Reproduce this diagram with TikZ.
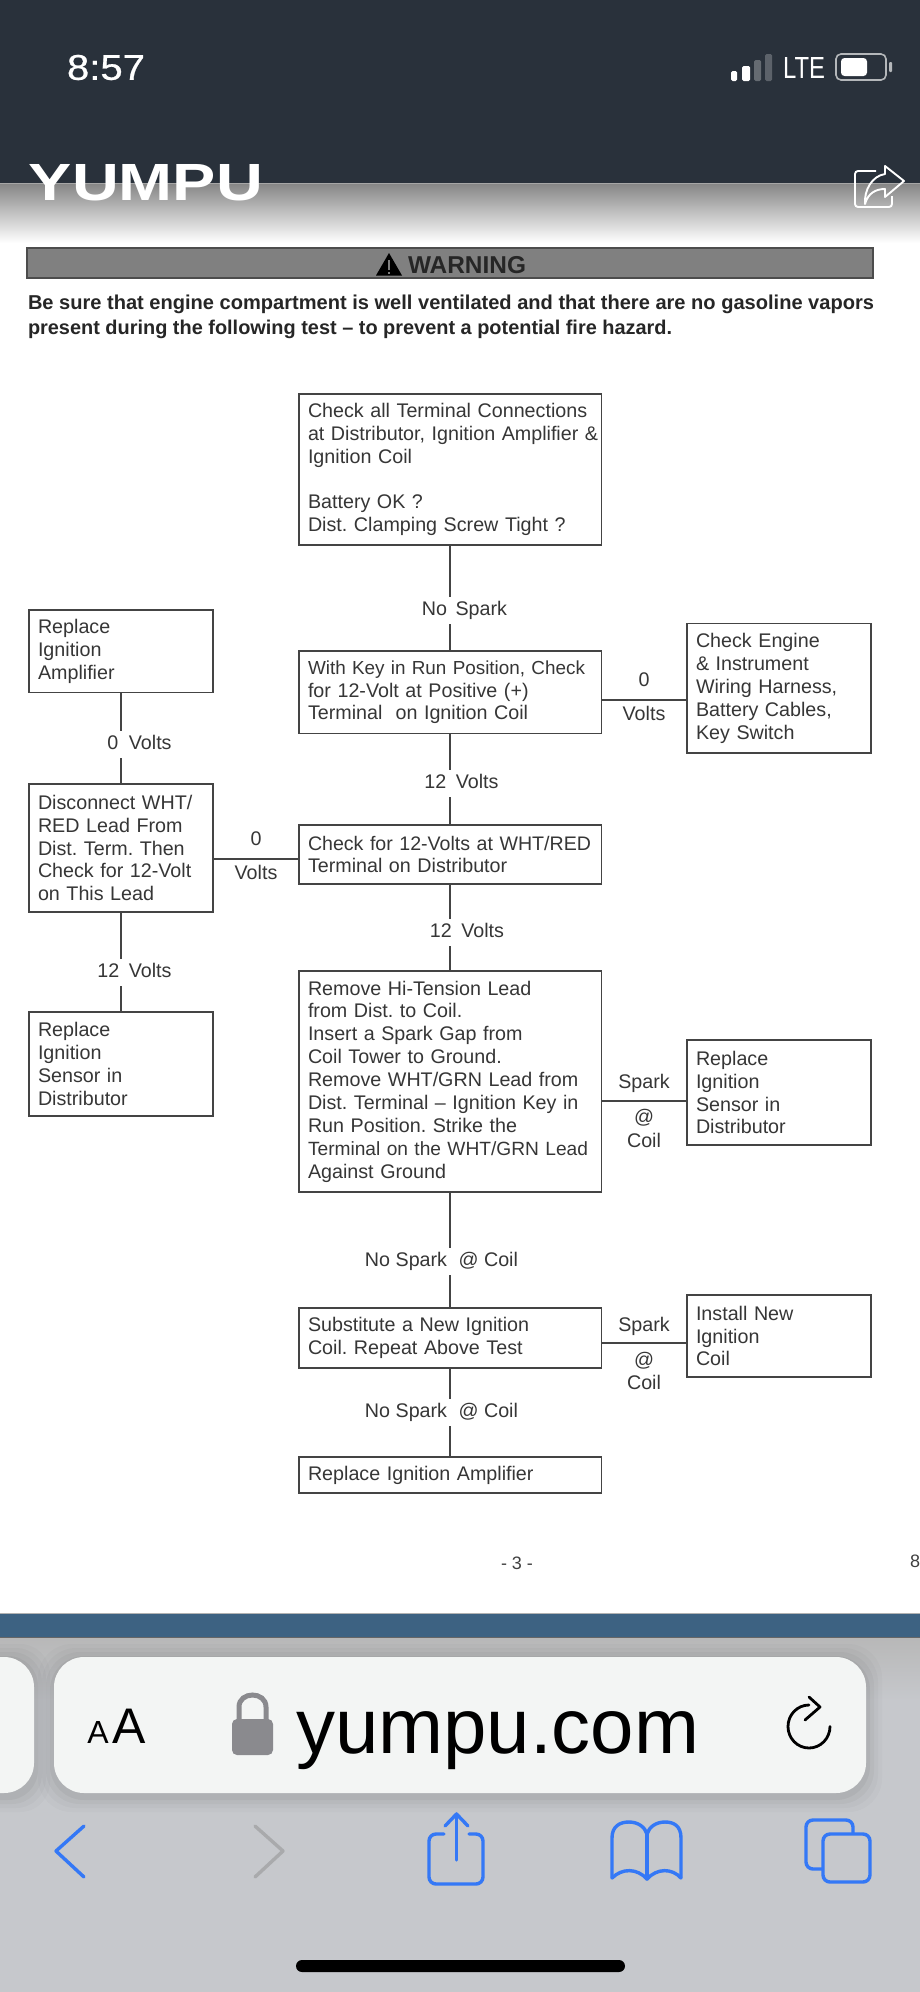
\documentclass[tikz,border=0pt]{standalone}
\usepackage{fontspec}
\usepackage{graphicx}
\setmainfont{Liberation Sans}
\frenchspacing
\definecolor{hdr}{HTML}{29313B}
\definecolor{ink}{HTML}{363636}
\definecolor{edge}{HTML}{444444}
\definecolor{barblue}{HTML}{3D6282}
\definecolor{chrome}{HTML}{C6C8CC}
\definecolor{field}{HTML}{F3F5F4}
\definecolor{iosblue}{HTML}{3478F6}
\definecolor{iosgray}{HTML}{A9AAAC}
\definecolor{lockgray}{HTML}{8A8A8E}
\tikzset{
  x=1pt,y=-1pt,
  flow/.style={draw=edge,line width=1.8pt,fill=white,inner sep=0pt,outer sep=0pt,text=ink,font=\fontsize{19.7}{22.9}\selectfont,align=left},
  wire/.style={draw=edge,line width=1.8pt},
  lab/.style={fill=white,inner xsep=1pt,inner ysep=4.5pt,text height=14pt,text depth=4pt,text=ink,font=\fontsize{19.7}{22.9}\selectfont},
  side/.style={inner sep=0pt,text=ink,font=\fontsize{19.7}{22.9}\selectfont},
  plain/.style={inner sep=0pt,outer sep=0pt},
  ios/.style={line width=3.4pt,draw=iosblue,line cap=round,line join=round},
}
\newcommand{\flowbox}[6]{%
  \pgfmathsetmacro\flowW{#4-#2}\pgfmathsetmacro\flowH{#5-#3}\pgfmathsetmacro\flowT{#4-#2-18}%
  \node[flow,minimum width=\flowW pt,minimum height=\flowH pt,text width=\flowT pt] (#1) at ({(#2+#4)/2},{(#3+#5)/2}) {#6};}
\newcommand{\fitline}[2]{\resizebox{#1pt}{!}{#2}}
\begin{document}
\begin{tikzpicture}
\useasboundingbox (0,0) rectangle (920,1992);
% page and header
\fill[white] (0,0) rectangle (920,1992);
\fill[hdr] (0,0) rectangle (920,183);
\shade[top color=black!48!white,bottom color=white] (0,183) rectangle (920,243);
\draw[black!35!white,line width=0.8pt] (0,183.5) -- (920,183.5);
\node[plain,text=white,anchor=center] (clock) at (106,67.5) {\resizebox{78pt}{25pt}{\addfontfeature{FakeBold=0.6}8:57}};
\fill[white,rounded corners=1.5pt] (731,71) rectangle (737,81);
\fill[white,rounded corners=1.5pt] (742,66) rectangle (750,81);
\fill[white!28!hdr,rounded corners=1.5pt] (754,60) rectangle (761,81);
\fill[white!24!hdr,rounded corners=1.5pt] (765,54) rectangle (772,81);
\node[plain,text=white] (lte) at (804,68) {\resizebox{42pt}{21pt}{LTE}};
\draw[white!65!hdr,line width=1.6pt,rounded corners=5pt] (836,54) rectangle (886,80);
\fill[white,rounded corners=3.5pt] (841,58) rectangle (867,76);
\fill[white!65!hdr,rounded corners=1pt] (889,62) rectangle (892,72);
\node[plain,text=white] (brand) at (146,183) {\resizebox{234pt}{36pt}{\bfseries YUMPU}};
\draw[white,line width=1.9pt,rounded corners=3pt] (876,171) -- (855,171) -- (855,207) -- (892,207) -- (892,196);
\draw[white,line width=1.9pt,line join=round] (885,166) -- (904,181) -- (885,197) -- (885,189) .. controls (876,189) and (868,193) .. (865,204) .. controls (864,190) and (872,176) .. (885,174) -- cycle;
% warning banner
\node[draw=black!70,fill=black!50,line width=1.6pt,plain,minimum width=846pt,minimum height=30pt] (banner) at (450,263) {};
\fill[black] (376,275.5) -- (402,275.5) -- (389,253) -- cycle;
\fill[black!50] (387.6,260) rectangle (390.4,270);
\fill[black!50] (387.6,271.5) rectangle (390.4,274);
\node[plain,text=black!85,anchor=west] (warnhead) at (408,265.5) {\resizebox{118pt}{!}{\bfseries WARNING}};
\node[plain,text=black!85,anchor=west] (warn1) at (28,304.5) {\resizebox{846pt}{!}{\bfseries Be sure that engine compartment is well ventilated and that there are no gasoline vapors}};
\node[plain,text=black!85,anchor=west] (warn2) at (28,329) {\resizebox{644pt}{!}{\bfseries present during the following test -- to prevent a potential fire hazard.}};
% main column
\flowbox{m1}{299}{394}{601.5}{545}{\makebox[284pt][s]{Check all Terminal Connections}\\\makebox[284pt][s]{at Distributor, Ignition Amplifier \&}\\Ignition Coil\\[22.9pt]Battery OK ?\\Dist. Clamping Screw Tight ?}
\flowbox{m2}{299}{651}{601.5}{733.5}{\fitline{277}{With Key in Run Position, Check}\\for 12-Volt at Positive (+)\\Terminal\ \ on Ignition Coil}
\flowbox{m3}{299}{825}{601.5}{884}{\fitline{283}{Check for 12-Volts at WHT/RED}\\Terminal on Distributor}
\flowbox{m4}{299}{971}{601.5}{1192}{Remove Hi-Tension Lead\\from Dist. to Coil.\\Insert a Spark Gap from\\Coil Tower to Ground.\\\makebox[283pt][s]{Remove WHT/GRN Lead from}\\Dist. Terminal -- Ignition Key in\\Run Position. Strike the\\\fitline{280}{Terminal on the WHT/GRN Lead}\\Against Ground}
\flowbox{m5}{299}{1308}{601.5}{1368}{Substitute a New Ignition\\Coil. Repeat Above Test}
\flowbox{m6}{299}{1457}{601.5}{1493}{Replace Ignition Amplifier}
% left column
\flowbox{l1}{29}{610}{213}{692.5}{Replace\\Ignition\\Amplifier}
\flowbox{l2}{29}{784}{213}{912}{Disconnect WHT/\\RED Lead From\\Dist. Term. Then\\Check for 12-Volt\\on This Lead}
\flowbox{l3}{29}{1012}{213}{1116}{Replace\\Ignition\\Sensor in\\Distributor}
% right column
\flowbox{r1}{687}{623.5}{871}{753}{Check Engine\\\& Instrument\\Wiring Harness,\\Battery Cables,\\Key Switch}
\flowbox{r2}{687}{1040}{871}{1145}{Replace\\Ignition\\Sensor in\\Distributor}
\flowbox{r3}{687}{1295}{871}{1377}{Install New\\Ignition\\Coil}
% vertical connectors
\draw[wire] (m1) -- (m2);
\draw[wire] (m2) -- (m3);
\draw[wire] (m3) -- (m4);
\draw[wire] (m4) -- (m5);
\draw[wire] (m5) -- (m6);
\draw[wire] (l1) -- (l2);
\draw[wire] (l2) -- (l3);
% their labels
\node[lab] (t1) at (464.5,610) {No\hspace{8.5pt}Spark};
\node[lab] (t2) at (461.5,783) {12\hspace{9.5pt}Volts};
\node[lab] (t3) at (467,932) {12\hspace{9.5pt}Volts};
\node[lab] (t4) at (441.5,1261.5) {No Spark\hspace{11.5pt}@ Coil};
\node[lab] (t5) at (441.5,1412) {No Spark\hspace{11.5pt}@ Coil};
\node[lab] (t6) at (139.5,744) {0\hspace{10.5pt}Volts};
\node[lab] (t7) at (134.5,972) {12\hspace{9.5pt}Volts};
% horizontal connectors
\coordinate (ya) at (0,699.6);
\coordinate (yb) at (0,858.6);
\coordinate (yc) at (0,1100.7);
\coordinate (yd) at (0,1343);
\draw[wire] (m2.east |- ya) -- (r1.west |- ya);
\draw[wire] (l2.east |- yb) -- (m3.west |- yb);
\draw[wire] (m4.east |- yc) -- (r2.west |- yc);
\draw[wire] (m5.east |- yd) -- (r3.west |- yd);
\node[side] (s1) at (644,680) {0};
\node[side] (s2) at (644,713) {Volts};
\node[side] (s3) at (256,839) {0};
\node[side] (s4) at (256,872) {Volts};
\node[side] (s5) at (644,1083.5) {Spark};
\node[side] (s6) at (644,1118) {@};
\node[side] (s7) at (644,1140) {Coil};
\node[side] (s8) at (644,1326) {Spark};
\node[side] (s9) at (644,1361) {@};
\node[side] (s10) at (644,1382) {Coil};
% page number
\node[plain,text=black!75,font=\fontsize{18}{20}\selectfont] (pg) at (517,1563) {- 3 -};
\node[plain,text=black!75,font=\fontsize{18}{20}\selectfont,anchor=west] (pgn) at (910,1561) {8};
% browser chrome
\fill[chrome] (0,1637) rectangle (920,1992);
\shade[top color=black!28!white,bottom color=chrome] (0,1637) rectangle (920,1700);
\fill[barblue] (0,1613) rectangle (920,1637);
\draw[black!30!white,line width=0.8pt] (0,1613) -- (920,1613);
\draw[black!60!white,line width=0.8pt] (0,1637) -- (920,1637);
\foreach \s/\o in {16/0.02,12/0.025,8/0.03,4/0.04}{
  \fill[black,opacity=\o,rounded corners=34pt] (54-\s,1657-\s+3) rectangle (866+\s,1793+\s+3);
  \fill[black,opacity=\o,rounded corners=30pt] (-40,1657-\s+3) rectangle (34+\s,1793+\s+3);
}
\fill[field,rounded corners=30pt] (54,1657) rectangle (866,1793);
\fill[field,rounded corners=30pt] (-40,1657) rectangle (34,1793);
\node[plain,anchor=base,text=black,font=\fontsize{32}{34}\selectfont] (smalla) at (98,1743) {A};
\node[plain,anchor=base,text=black,font=\fontsize{50}{52}\selectfont] (biga) at (129,1743) {A};
\fill[lockgray,rounded corners=5pt] (232,1719) rectangle (273,1755);
\draw[lockgray,line width=5pt] (239,1722) -- (239,1707) .. controls (239,1691) and (266,1691) .. (266,1707) -- (266,1722);
\node[plain,anchor=base west,text=black,font=\fontsize{78}{80}\selectfont] (url) at (296,1753) {yumpu.com};
\draw[black,line width=2.8pt,line cap=round] (809,1705) arc[start angle=90,end angle=360,x radius=21pt,y radius=21.5pt];
\draw[black,line width=2.8pt,line cap=round,line join=round] (809,1697) -- (820,1707) -- (805,1720);
% toolbar icons
\draw[ios] (84,1826) -- (56,1851) -- (84,1877);
\draw[ios,draw=iosgray] (255,1826) -- (283,1851) -- (255,1877);
\draw[ios,rounded corners=7pt] (444,1834) -- (429,1834) -- (429,1884) -- (483,1884) -- (483,1834) -- (469,1834);
\draw[ios] (456.5,1860) -- (456.5,1814);
\draw[ios] (445,1826) -- (456.5,1814) -- (468,1826);
\draw[ios] (612,1878) -- (612,1838) .. controls (612,1826) and (620,1822) .. (629,1822) .. controls (638,1822) and (645,1827) .. (647,1834) .. controls (649,1827) and (656,1822) .. (665,1822) .. controls (674,1822) and (681,1826) .. (681,1838) -- (681,1878);
\draw[ios] (612,1878) .. controls (622,1868) and (637,1868) .. (647,1879) .. controls (657,1868) and (672,1868) .. (681,1878);
\draw[ios] (647,1834) -- (647,1879);
\draw[ios,rounded corners=7pt] (822,1869) -- (806,1869) -- (806,1820) -- (853,1820) -- (853,1833);
\draw[ios,rounded corners=7pt] (823,1834) rectangle (870,1882);
\fill[black,rounded corners=6pt] (296,1960) rectangle (625,1972);
\end{tikzpicture}
\end{document}
